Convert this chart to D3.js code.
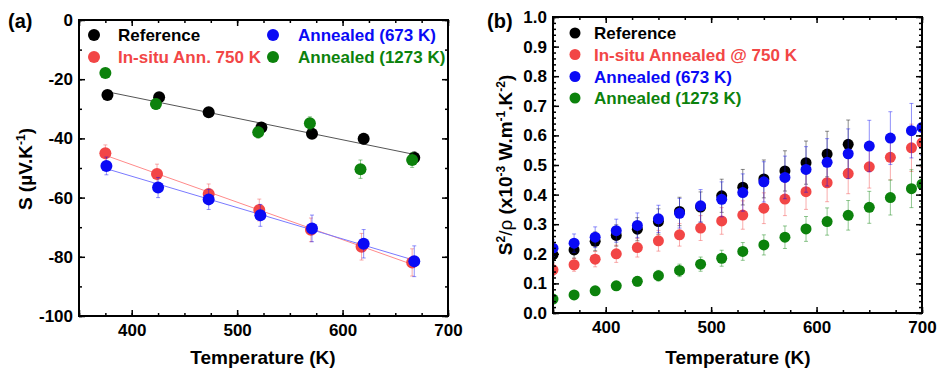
<!DOCTYPE html>
<html>
<head>
<meta charset="utf-8">
<script src="https://cdn.jsdelivr.net/npm/d3@7"></script>
<style>
  body { margin: 0; background: #fff; }
  svg text { font-family: Arial, "Liberation Sans", sans-serif; font-weight: bold; }
</style>
</head>
<body>
<svg id="chart" width="938" height="369"></svg>
<script>
// ---- panel (a): Seebeck coefficient ----
const tRef = [377, 426, 473, 523, 571, 620, 668];
const sRef = [-25.3, -26.1, -31.2, -36.3, -38.4, -40.1, -46.5];
const sRefErr = [1.2, 1.2, 1.3, 1.5, 1.6, 1.8, 2.0];

const tInsitu = [375, 424, 473, 521, 570, 618, 666];
const sInsitu = [-45.0, -52.0, -58.8, -64.2, -70.9, -76.6, -81.9];
const sInsituErr = [2.8, 3.3, 3.4, 3.7, 4.0, 4.5, 4.6];

const tA673 = [376, 425, 473, 522, 571, 620, 668];
const sA673 = [-49.3, -56.6, -60.6, -66.0, -70.4, -75.6, -81.5];
const sA673Err = [3.0, 3.4, 3.4, 3.7, 4.5, 4.8, 5.2];

const tA1273 = [375, 423, 520, 569, 617, 666];
const sA1273 = [-17.9, -28.4, -37.9, -34.9, -50.4, -47.3];
const sA1273Err = [1.5, 1.8, 2.0, 2.2, 3.1, 2.5];

// ---- panel (b): power factor ----
const tPF = [350, 370, 390, 410, 430, 450, 470, 490, 510, 530, 550, 570, 590, 610, 630, 650, 670, 690, 700];
const pfRef = [0.197, 0.213, 0.242, 0.262, 0.283, 0.309, 0.343, 0.358, 0.396, 0.425, 0.453, 0.480, 0.508, 0.537, 0.570];
const pfRefErr = [0.025, 0.028, 0.032, 0.036, 0.039, 0.043, 0.048, 0.051, 0.056, 0.060, 0.064, 0.068, 0.073, 0.077, 0.082];
const pfInsitu = [0.146, 0.163, 0.182, 0.200, 0.221, 0.244, 0.264, 0.287, 0.311, 0.331, 0.354, 0.385, 0.410, 0.440, 0.471, 0.494, 0.526, 0.558, 0.575];
const pfInsituErr = [0.020, 0.022, 0.026, 0.029, 0.032, 0.035, 0.038, 0.042, 0.045, 0.048, 0.052, 0.056, 0.060, 0.064, 0.068, 0.072, 0.076, 0.080, 0.083];
const pfA673 = [0.219, 0.236, 0.256, 0.278, 0.296, 0.318, 0.337, 0.362, 0.384, 0.407, 0.443, 0.458, 0.485, 0.509, 0.538, 0.564, 0.591, 0.616, 0.627];
const pfA673Err = [0.028, 0.031, 0.035, 0.039, 0.042, 0.046, 0.050, 0.055, 0.059, 0.063, 0.068, 0.072, 0.077, 0.080, 0.084, 0.087, 0.089, 0.092, 0.094];
const pfA1273 = [0.047, 0.061, 0.075, 0.092, 0.107, 0.126, 0.144, 0.165, 0.185, 0.208, 0.230, 0.256, 0.284, 0.309, 0.330, 0.357, 0.390, 0.420, 0.435];
const pfA1273Err = [0.007, 0.009, 0.011, 0.013, 0.016, 0.018, 0.021, 0.024, 0.027, 0.030, 0.034, 0.038, 0.042, 0.046, 0.050, 0.054, 0.059, 0.064, 0.066];

const C = { black: '#000000', red: '#f24646', blue: '#0a0af5', green: '#0c820c' };
const fitCol = { black: '#555555', red: '#ff8a8a', blue: '#7a7aff' };

const svg = d3.select('#chart');

/** draws frame, ticks on all four sides and tick labels */
function frame(g, x, y, xMajor, xMinor, yMajor, yMinor, yFmt) {
    const [x0, x1] = x.range(), [y0, y1] = y.range();
    const xa = (ax, vals, len, fmt, pad) => ax(x).tickValues(vals).tickSize(-len).tickPadding(pad).tickFormat(fmt);
    const ya = (ax, vals, len, fmt, pad) => ax(y).tickValues(vals).tickSize(-len).tickPadding(pad).tickFormat(fmt);
    const none = () => '';
    const showX = d => (d === x.domain()[0] ? '' : d);

    g.append('g').attr('transform', `translate(0,${y0})`).call(xa(d3.axisBottom, xMinor, 3, none, 0));
    g.append('g').attr('transform', `translate(0,${y0})`).attr('class', 'lab').call(xa(d3.axisBottom, xMajor, 6, showX, 8));
    g.append('g').attr('transform', `translate(0,${y1})`).call(xa(d3.axisTop, xMinor, 3, none, 0));
    g.append('g').attr('transform', `translate(0,${y1})`).call(xa(d3.axisTop, xMajor, 6, none, 0));
    g.append('g').attr('transform', `translate(${x0},0)`).call(ya(d3.axisLeft, yMinor, 3, none, 0));
    g.append('g').attr('transform', `translate(${x0},0)`).attr('class', 'lab').call(ya(d3.axisLeft, yMajor, 6, yFmt, 6));
    g.append('g').attr('transform', `translate(${x1},0)`).call(ya(d3.axisRight, yMinor, 3, none, 0));
    g.append('g').attr('transform', `translate(${x1},0)`).call(ya(d3.axisRight, yMajor, 6, none, 0));

    g.selectAll('.domain').remove();
    g.selectAll('.tick line').attr('stroke', '#000').attr('stroke-width', 1.5);
    g.selectAll('.lab text').attr('font-size', 17).attr('fill', '#000')
        .attr('font-family', 'Arial, "Liberation Sans", sans-serif').attr('font-weight', 'bold');

    g.append('rect').attr('x', x0).attr('y', y1).attr('width', x1 - x0).attr('height', y0 - y1)
        .attr('fill', 'none').attr('stroke', '#000').attr('stroke-width', 2);
}

/** error bars + filled circles for one series */
function series(g, x, y, xs, ys, es, col, r) {
    const pts = ys.map((v, i) => ({ t: xs[i], v: v, e: es[i] }));
    const eb = g.append('g').attr('stroke', col).attr('stroke-opacity', 0.45).attr('stroke-width', 1);
    eb.selectAll('line.v').data(pts).enter().append('line')
        .attr('x1', d => x(d.t)).attr('x2', d => x(d.t))
        .attr('y1', d => y(d.v - d.e)).attr('y2', d => y(d.v + d.e));
    [-1, 1].forEach(s => {
        eb.selectAll('line.c' + s).data(pts).enter().append('line')
            .attr('x1', d => x(d.t) - 2).attr('x2', d => x(d.t) + 2)
            .attr('y1', d => y(d.v + s * d.e)).attr('y2', d => y(d.v + s * d.e));
    });
    g.append('g').selectAll('circle').data(pts).enter().append('circle')
        .attr('cx', d => x(d.t)).attr('cy', d => y(d.v)).attr('r', r).attr('fill', col);
}

/** least squares line through a series */
function fitLine(g, x, y, xs, ys, col) {
    const mx = d3.mean(xs), my = d3.mean(ys);
    const b = d3.sum(xs, (t, i) => (t - mx) * (ys[i] - my)) / d3.sum(xs, t => (t - mx) * (t - mx));
    const a = my - b * mx;
    const ends = d3.extent(xs);
    g.append('line')
        .attr('x1', x(ends[0])).attr('y1', y(a + b * ends[0]))
        .attr('x2', x(ends[1])).attr('y2', y(a + b * ends[1]))
        .attr('stroke', col).attr('stroke-width', 1);
}

function legend(g, items, dotX, textX, rowY, r) {
    items.forEach((it, i) => {
        g.append('circle').attr('cx', dotX[i]).attr('cy', rowY[i]).attr('r', r).attr('fill', it.col);
        g.append('text').attr('x', textX[i]).attr('y', rowY[i]).attr('dy', '0.36em')
            .attr('font-size', 17).attr('fill', it.col).text(it.name);
    });
}

// ================= panel (a) =================
const xa = d3.scaleLinear().domain([350, 700]).range([79, 448]);
const ya = d3.scaleLinear().domain([-100, 0]).range([316, 20]);
const ga = svg.append('g');

fitLine(ga, xa, ya, tRef, sRef, fitCol.black);
fitLine(ga, xa, ya, tInsitu, sInsitu, fitCol.red);
fitLine(ga, xa, ya, tA673, sA673, fitCol.blue);

series(ga, xa, ya, tRef, sRef, sRefErr, C.black, 6);
series(ga, xa, ya, tInsitu, sInsitu, sInsituErr, C.red, 6);
series(ga, xa, ya, tA673, sA673, sA673Err, C.blue, 6);
series(ga, xa, ya, tA1273, sA1273, sA1273Err, C.green, 6);

frame(ga, xa, ya, d3.range(350, 701, 50).filter(d => d % 100 === 0 || d === 350),
      d3.range(350, 701, 25), d3.range(-100, 1, 20), d3.range(-100, 1, 10), d => d);

legend(ga, [
    { name: 'Reference', col: C.black },
    { name: 'In-situ Ann. 750 K', col: C.red },
    { name: 'Annealed (673 K)', col: C.blue },
    { name: 'Annealed (1273 K)', col: C.green }
], [94, 94, 273, 273], [118, 118, 298, 298], [35, 57, 35, 57], 6);

ga.append('text').attr('x', 8).attr('y', 28).attr('font-size', 20).text('(a)');
ga.append('text').attr('x', 263).attr('y', 364).attr('text-anchor', 'middle').attr('font-size', 19)
    .text('Temperature (K)');
const ta = ga.append('text').attr('transform', 'translate(32,169) rotate(-90)')
    .attr('text-anchor', 'middle').attr('font-size', 19);
ta.append('tspan').text('S (\u00b5V.K');
ta.append('tspan').attr('font-size', 12).attr('dy', -7).text('-1');
ta.append('tspan').attr('dy', 7).text(')');

// ================= panel (b) =================
const xb = d3.scaleLinear().domain([350, 700]).range([553, 922]);
const yb = d3.scaleLinear().domain([0, 1]).range([313, 17]);
const gb = svg.append('g');

svg.append('clipPath').attr('id', 'clipB').append('rect')
    .attr('x', 553).attr('y', 17).attr('width', 369).attr('height', 296);
const pb = gb.append('g').attr('clip-path', 'url(#clipB)');

series(pb, xb, yb, tPF.slice(0, pfRef.length), pfRef, pfRefErr, C.black, 5.5);
series(pb, xb, yb, tPF, pfInsitu, pfInsituErr, C.red, 5.5);
series(pb, xb, yb, tPF, pfA673, pfA673Err, C.blue, 5.5);
series(pb, xb, yb, tPF, pfA1273, pfA1273Err, C.green, 5.5);

frame(gb, xb, yb, [350, 400, 500, 600, 700], d3.range(350, 701, 25),
      d3.range(0, 11).map(d => d / 10), d3.range(0, 51).map(d => d / 50), d3.format('.1f'));

legend(gb, [
    { name: 'Reference', col: C.black },
    { name: 'In-situ Annealed @ 750 K', col: C.red },
    { name: 'Annealed (673 K)', col: C.blue },
    { name: 'Annealed (1273 K)', col: C.green }
], [575, 575, 575, 575], [594, 594, 594, 594], [33, 54.5, 76.5, 98], 5.5);

gb.append('text').attr('x', 487).attr('y', 28).attr('font-size', 20).text('(b)');
gb.append('text').attr('x', 738).attr('y', 364).attr('text-anchor', 'middle').attr('font-size', 19)
    .text('Temperature (K)');
const tb = gb.append('text').attr('transform', 'translate(512,165) rotate(-90)')
    .attr('text-anchor', 'middle').attr('font-size', 19);
tb.append('tspan').text('S');
tb.append('tspan').attr('font-size', 12).attr('dy', -7).text('2');
tb.append('tspan').attr('dy', 7).attr('font-weight', 'normal').text('/\u03c1');
tb.append('tspan').text(' (x10');
tb.append('tspan').attr('font-size', 12).attr('dy', -7).text('-3');
tb.append('tspan').attr('dy', 7).text(' W.m');
tb.append('tspan').attr('font-size', 12).attr('dy', -7).text('-1');
tb.append('tspan').attr('dy', 7).text('.K');
tb.append('tspan').attr('font-size', 12).attr('dy', -7).text('-2');
tb.append('tspan').attr('dy', 7).text(')');
</script>
</body>
</html>
